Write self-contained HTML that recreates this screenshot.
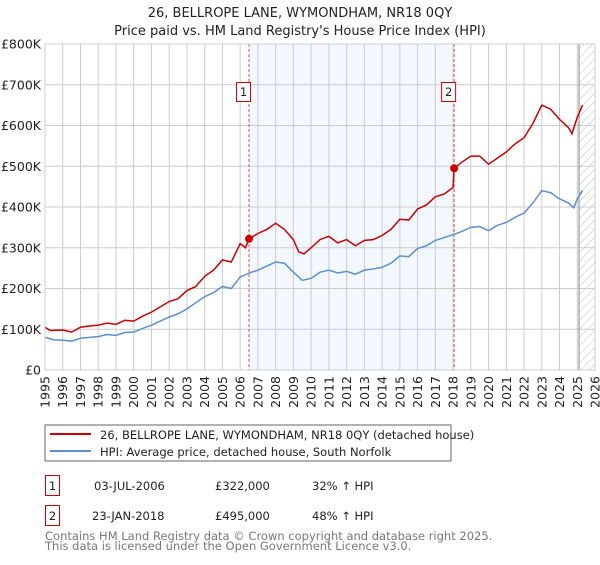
<!DOCTYPE html>
<html><head><meta charset="utf-8"><style>
body{margin:0;background:#fff;}
svg{font-family:"DejaVu Sans","Liberation Sans",sans-serif;}
</style></head><body>
<svg id="c" width="600" height="560" xmlns="http://www.w3.org/2000/svg">
<defs><pattern id="hatch" width="6" height="6" patternUnits="userSpaceOnUse" patternTransform="rotate(45)"><line x1="0" y1="0" x2="0" y2="6" stroke="#bbb" stroke-width="1"/></pattern></defs>
<text x="300" y="17" text-anchor="middle" font-size="13" fill="#222">26, BELLROPE LANE, WYMONDHAM, NR18 0QY</text>
<text x="300" y="35" text-anchor="middle" font-size="13" fill="#222">Price paid vs. HM Land Registry's House Price Index (HPI)</text>
<g id="plot"></g>
<rect x="45" y="425" width="406" height="36" fill="#fff" stroke="#666"/>
<line x1="50" y1="434" x2="91" y2="434" stroke="#cc0000" stroke-width="2"/>
<text x="100" y="439" font-size="11.5" fill="#222">26, BELLROPE LANE, WYMONDHAM, NR18 0QY (detached house)</text>
<line x1="50" y1="451" x2="91" y2="451" stroke="#5b8fd0" stroke-width="2"/>
<text x="100" y="456" font-size="11.5" fill="#222">HPI: Average price, detached house, South Norfolk</text>
<g font-size="11.5" fill="#222">
<rect x="45.5" y="475.5" width="14" height="20" fill="#fff" stroke="#cc0000"/>
<text x="52.5" y="490" text-anchor="middle">1</text>
<text x="94" y="490">03-JUL-2006</text>
<text x="215" y="490">£322,000</text>
<text x="312" y="490">32% ↑ HPI</text>
<rect x="45.5" y="505.5" width="14" height="20" fill="#fff" stroke="#cc0000"/>
<text x="52.5" y="520" text-anchor="middle">2</text>
<text x="92" y="520">23-JAN-2018</text>
<text x="215" y="520">£495,000</text>
<text x="312" y="520">48% ↑ HPI</text>
</g>
<text x="45" y="540" font-size="11.5" fill="#777">Contains HM Land Registry data © Crown copyright and database right 2025.</text>
<text x="45" y="550" font-size="11.5" fill="#777">This data is licensed under the Open Government Licence v3.0.</text>
</svg>
<script>
const hpiYears=[1995,1995.5,1996,1996.5,1997,1997.5,1998,1998.5,1999,1999.5,2000,2000.5,2001,2001.5,2002,2002.5,2003,2003.5,2004,2004.5,2005,2005.5,2006,2006.5,2007,2007.5,2008,2008.5,2009,2009.5,2010,2010.5,2011,2011.5,2012,2012.5,2013,2013.5,2014,2014.5,2015,2015.5,2016,2016.5,2017,2017.5,2018,2018.5,2019,2019.5,2020,2020.5,2021,2021.5,2022,2022.5,2023,2023.5,2024,2024.5,2024.8,2025,2025.3];
const hpiValues=[80,74,73,71,78,80,82,87,85,92,93,102,110,120,130,138,150,165,180,190,205,200,228,238,245,255,265,262,240,220,225,240,245,238,242,235,245,248,252,262,280,278,298,305,318,325,332,340,350,352,342,355,362,375,385,410,440,435,420,410,398,420,440];
const priceYears=[1995,1995.3,1996,1996.5,1997,1997.5,1998,1998.5,1999,1999.5,2000,2000.5,2001,2001.5,2002,2002.5,2003,2003.5,2004,2004.5,2005,2005.5,2006,2006.3,2006.5,2007,2007.5,2008,2008.5,2009,2009.3,2009.6,2010,2010.5,2011,2011.5,2012,2012.5,2013,2013.5,2014,2014.5,2015,2015.5,2016,2016.5,2017,2017.5,2018.0,2018.06,2018.5,2019,2019.5,2020,2020.5,2021,2021.5,2022,2022.5,2023,2023.5,2024,2024.5,2024.7,2025,2025.3];
const priceValues=[105,97,98,93,105,108,110,115,112,122,120,132,142,155,168,175,195,205,230,245,270,265,310,300,322,335,345,360,345,320,290,285,300,320,328,312,320,305,318,320,330,345,370,368,395,405,425,432,448,495,510,525,525,505,520,535,555,570,605,650,640,615,595,580,620,650];
const saleYears=[2006.5,2018.06];
const saleValues=[322,495];
const saleLabels=["1","2"];
const yTicks=[0,100,200,300,400,500,600,700,800];
const yTickLabels=["£0","£100K","£200K","£300K","£400K","£500K","£600K","£700K","£800K"];
const xTicks=[1995,1996,1997,1998,1999,2000,2001,2002,2003,2004,2005,2006,2007,2008,2009,2010,2011,2012,2013,2014,2015,2016,2017,2018,2019,2020,2021,2022,2023,2024,2025,2026];

const X0=45,X1=595,Y0=370,Y1=44;
const xs=y=>X0+(y-1995)/(2026-1995)*(X1-X0);
const ys=v=>Y0-v/800*(Y0-Y1);
const NS="http://www.w3.org/2000/svg";
const g=document.getElementById('plot');
function mk(t,a){const e=document.createElementNS(NS,t);for(const k in a)e.setAttribute(k,a[k]);g.appendChild(e);return e;}
let e;
e=mk('rect',{x:xs(saleYears[0]),y:Y1,width:xs(saleYears[1])-xs(saleYears[0]),height:Y0-Y1,fill:'#eef3fd',opacity:0.7});


e=mk('rect',{x:xs(2025.1),y:Y1,width:X1-xs(2025.1),height:Y0-Y1,fill:'url(#hatch)'});


xTicks.forEach((t,i)=>{
 e=mk('line',{x1:xs(t),x2:xs(t),y1:Y1,y2:Y0,stroke:'#ccc','stroke-width':1});
 
 
 e=mk('text',{x:0,y:0,'font-size':12.5,fill:'#222','text-anchor':'end',transform:`translate(${xs(t)+4.5},${Y0+6}) rotate(-90)`});
 e.textContent=t;
 
 
});
yTicks.forEach((t,i)=>{
 e=mk('line',{x1:X0,x2:X1,y1:ys(t),y2:ys(t),stroke:'#ccc','stroke-width':1});
 
 
 e=mk('text',{x:X0-4,y:ys(t)+4.5,'font-size':12.5,fill:'#222','text-anchor':'end'});
 e.textContent=yTickLabels[i];
 
 
});
e=mk('line',{x1:xs(2025.1),x2:xs(2025.1),y1:Y1,y2:Y0,stroke:'#888','stroke-width':1});


saleYears.forEach((s,i)=>{
 e=mk('line',{x1:xs(s),x2:xs(s),y1:Y1,y2:Y0,stroke:'#e05050','stroke-width':1,'stroke-dasharray':'3,2'});
 
 
 e=mk('rect',{x:xs(s)-12.5,y:82.5,width:14,height:19,fill:'#fff',stroke:'#cc0000'});
 
 
 e=mk('text',{x:xs(s)-5.5,y:96,'font-size':11.5,fill:'#222','text-anchor':'middle'});
 e.textContent=saleLabels[i];
 
 
});
e=mk('polyline',{points:hpiYears.map((y,i)=>xs(y)+','+ys(hpiValues[i])).join(' '),fill:'none',stroke:'#5b8fd0','stroke-width':1.5});


e=mk('polyline',{points:priceYears.map((y,i)=>xs(y)+','+ys(priceValues[i])).join(' '),fill:'none',stroke:'#cc0000','stroke-width':1.5});


saleYears.forEach((s,i)=>{
 e=mk('circle',{cx:xs(s),cy:ys(saleValues[i]),r:4,fill:'#cc0000'});
 
 
});
e=mk('rect',{x:X0,y:Y1,width:X1-X0,height:Y0-Y1,fill:'none',stroke:'#ccc'});


</script>
</body></html>
